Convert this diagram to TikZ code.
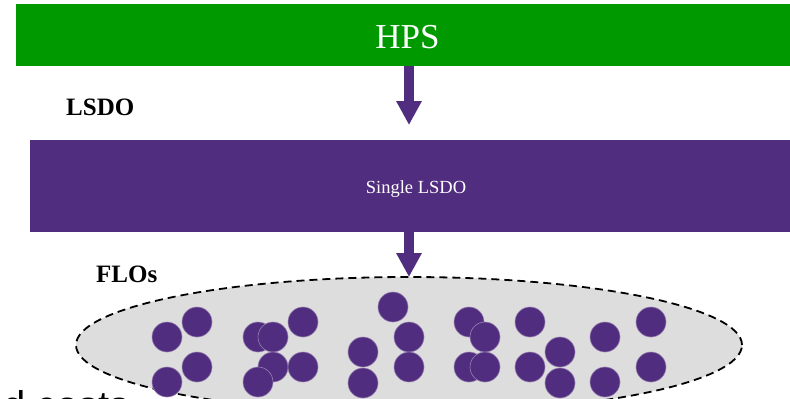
\documentclass[tikz,border=0pt]{standalone}
\usepackage{fontspec}
\setmainfont{Liberation Serif}
\newfontfamily\bodysans{Liberation Sans}
\usetikzlibrary{arrows.meta,shapes.geometric}
\definecolor{hpsgreen}{RGB}{0,153,0}
\definecolor{lsdopurple}{RGB}{81,45,127}
\definecolor{flogray}{RGB}{221,221,221}
\definecolor{dotedge}{RGB}{150,128,175}

\begin{document}
\begin{tikzpicture}[x=1pt,y=-1pt,
  bar/.style={rectangle, inner sep=0pt, outer sep=0pt},
  flow/.style={draw=lsdopurple, line width=10pt,
    -{Triangle[width=24pt,length=24pt,fill=lsdopurple]}},
  tier/.style={font=\fontsize{25}{30}\selectfont\bfseries,
    anchor=base west, inner sep=0pt},
  flo/.style={circle, fill=lsdopurple, draw=dotedge, line width=0.6pt,
    minimum size=30pt, inner sep=0pt}]

\useasboundingbox (0,0) rectangle (790,399);
\clip (0,0) rectangle (790,399);

% top level bar
\node[bar, fill=hpsgreen, minimum width=774pt, minimum height=62pt]
  (hps) at (403,35) {};
\node[anchor=base, inner sep=0pt, text=white,
  font=\fontsize{35}{42}\selectfont] (hpslabel) at (407.5,48) {HPS};

% middle level bar
\node[bar, fill=lsdopurple, minimum width=760pt, minimum height=92pt]
  (lsdo) at (410,186) {};
\node[anchor=base, inner sep=0pt, text=white,
  font=\fontsize{18.5}{22}\selectfont] (lsdolabel) at (416,193) {Single LSDO};

% level names
\node[tier] (lsdotier) at (66,115) {LSDO};
\node[tier] (flotier) at (96,282) {FLOs};

% text running off the lower edge
\node[anchor=base west, inner sep=0pt, font=\bodysans\fontsize{40}{48}\selectfont]
  (costs) at (3,419) {d costs};

% pool of FLOs
\node[ellipse, fill=flogray, draw=black, line width=1.8pt,
  dash pattern=on 8pt off 5pt, minimum width=666pt, minimum height=136pt,
  inner sep=0pt, outer sep=0pt] (pool) at (409,345) {};

\foreach \px/\py [count=\i] in {
  167/337, 197/322, 197/367, 167/382,
  258/337, 273/337, 303/322, 273/367, 303/367, 258/382,
  363/352, 363/383, 393/307, 409/337, 409/367,
  469/322, 485/337, 469/367, 485/367,
  530/322, 530/367, 560/352, 560/383,
  605/337, 605/382, 651/322, 651/367}
  \node[flo] (f\i) at (\px,\py) {};

% arrows between the levels
\coordinate (tip1) at (409,125);
\draw[flow] (hps.south -| tip1) -- (tip1);
\draw[flow] (lsdo.south -| pool.north) -- (pool.north);
\end{tikzpicture}
\end{document}
